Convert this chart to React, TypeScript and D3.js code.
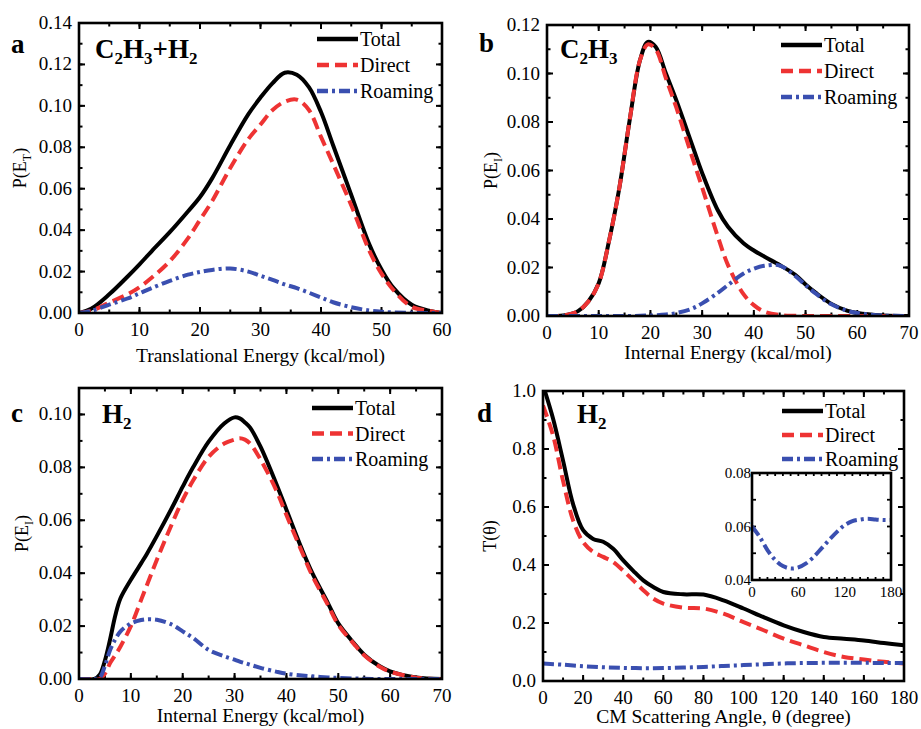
import React from "react";
import * as d3 from "d3";

// ---------- DATA ----------
// Panel a: translational energy distribution (C2H3 + H2)
const aX = [0, 2, 5, 8, 10, 12, 15, 18, 20, 22, 25, 28, 30, 32, 34, 36, 38, 40, 42, 45, 48, 50, 52, 55, 58, 60];
const aTotal = [0, 0.002, 0.009, 0.0175, 0.0235, 0.0298, 0.039, 0.049, 0.056, 0.065, 0.081, 0.096, 0.104, 0.111, 0.116, 0.115, 0.109, 0.097, 0.081, 0.057, 0.033, 0.021, 0.012, 0.004, 0.001, 0];
const aDirect = [0, 0.001, 0.005, 0.009, 0.0125, 0.017, 0.025, 0.036, 0.045, 0.054, 0.070, 0.084, 0.091, 0.098, 0.102, 0.103, 0.098, 0.085, 0.072, 0.052, 0.030, 0.019, 0.011, 0.003, 0.001, 0];
const aRoaming = [0, 0.001, 0.004, 0.007, 0.0095, 0.012, 0.0155, 0.0185, 0.0198, 0.0208, 0.0215, 0.020, 0.018, 0.016, 0.0138, 0.012, 0.0098, 0.0075, 0.0052, 0.0028, 0.0012, 0.0006, 0.0003, 0.0001, 0, 0];

// Panel b: C2H3 internal energy
const bX = [0, 2, 4, 6, 8, 10, 12, 14, 16, 18, 19.5, 21, 23, 25, 28, 30, 33, 35, 38, 40, 42, 45, 48, 50, 52, 55, 58, 60, 65, 70];
const bTotal = [0, 0, 0.0005, 0.002, 0.006, 0.0135, 0.031, 0.053, 0.081, 0.1056, 0.113, 0.111, 0.100, 0.089, 0.071, 0.059, 0.0437, 0.0368, 0.030, 0.027, 0.0245, 0.021, 0.017, 0.013, 0.0095, 0.005, 0.0022, 0.0012, 0.0002, 0];
const bDirect = [0, 0, 0.0005, 0.002, 0.006, 0.0135, 0.031, 0.053, 0.081, 0.1056, 0.112, 0.110, 0.098, 0.086, 0.066, 0.053, 0.033, 0.021, 0.009, 0.0045, 0.0018, 0.0004, 0.0001, 0, 0, 0, 0, 0, 0, 0];
const bRoaming = [0, 0, 0, 0, 0, 0, 0, 0, 0, 0.0001, 0.0002, 0.0003, 0.0006, 0.0012, 0.003, 0.0052, 0.0095, 0.0128, 0.0175, 0.0195, 0.0207, 0.0208, 0.0165, 0.0127, 0.0092, 0.0048, 0.0022, 0.0012, 0.0002, 0];

// Panel c: H2 internal energy
const cX = [0, 3, 4, 5, 6, 7, 8, 10, 12, 13, 15, 18, 20, 22, 25, 28, 30, 31, 32, 33, 35, 38, 40, 43, 45, 48, 50, 53, 55, 58, 60, 65, 70];
const cTotal = [0, 0, 0.0016, 0.007, 0.015, 0.024, 0.0305, 0.0375, 0.0438, 0.047, 0.054, 0.065, 0.0727, 0.080, 0.0897, 0.0966, 0.0989, 0.0985, 0.097, 0.095, 0.0878, 0.074, 0.064, 0.049, 0.040, 0.0287, 0.021, 0.0136, 0.0092, 0.0048, 0.0029, 0.0006, 0];
const cDirect = [0, 0, 0, 0.002, 0.006, 0.009, 0.0123, 0.020, 0.030, 0.035, 0.045, 0.059, 0.0677, 0.075, 0.084, 0.089, 0.0905, 0.091, 0.0905, 0.089, 0.083, 0.0715, 0.062, 0.048, 0.039, 0.028, 0.0205, 0.0133, 0.009, 0.0046, 0.0028, 0.0005, 0];
const cRoaming = [0, 0, 0.0005, 0.005, 0.011, 0.015, 0.018, 0.021, 0.0223, 0.0226, 0.0224, 0.0205, 0.018, 0.0155, 0.011, 0.0086, 0.0073, 0.0066, 0.006, 0.0054, 0.0042, 0.0028, 0.002, 0.0013, 0.001, 0.0006, 0.0004, 0.0002, 0.0001, 0, 0, 0, 0];

// Panel d: H2 angular distribution
const dX = [0, 5, 10, 15, 20, 25, 30, 35, 40, 45, 50, 55, 60, 70, 80, 90, 100, 110, 120, 130, 140, 150, 160, 170, 180];
const dTotal = [1.02, 0.905, 0.76, 0.61, 0.52, 0.49, 0.48, 0.456, 0.416, 0.38, 0.347, 0.324, 0.307, 0.299, 0.298, 0.278, 0.25, 0.22, 0.192, 0.169, 0.152, 0.146, 0.14, 0.131, 0.123];
const dDirect = [0.95, 0.847, 0.69, 0.554, 0.479, 0.445, 0.428, 0.41, 0.38, 0.347, 0.313, 0.284, 0.267, 0.253, 0.25, 0.232, 0.203, 0.175, 0.146, 0.123, 0.1, 0.083, 0.074, 0.066, 0.06];
const dRoamX = [0, 10, 20, 30, 40, 50, 60, 70, 80, 90, 100, 110, 120, 130, 140, 150, 160, 170, 180];
const dRoaming = [0.060, 0.0561, 0.0512, 0.0475, 0.0452, 0.0443, 0.0447, 0.0462, 0.0487, 0.0518, 0.055, 0.058, 0.0605, 0.062, 0.0626, 0.0629, 0.0626, 0.0624, 0.0624];

const legendLabels = ["Total", "Direct", "Roaming"];

// ---------- STYLE ----------
const FONT = "'Liberation Serif', 'Times New Roman', Times, serif";
const STYLES: Record<string, { color: string; dash: string | undefined }> = {
  Total: { color: "#000000", dash: undefined },
  Direct: { color: "#ee3333", dash: "12,6" },
  Roaming: { color: "#3a4fb0", dash: "11,4,3,4" },
};

type Series = { name: string; x: number[]; y: number[] };

type PanelProps = {
  id: string;
  left: number; right: number; top: number; bottom: number;
  xDomain: [number, number]; yDomain: [number, number];
  xMajor: number; xMinor: number; yMajor: number; yMinor: number;
  yDigits: number;
  series: Series[];
  letter: string; letterX: number; letterY: number;
  species: { t: string; sub?: boolean }[]; speciesX: number; speciesY: number;
  legendX: number; legendY: number; legendGap: number;
  xTitle: string; xTitleY: number;
  yTitle: React.ReactNode; yTitleX: number;
  children?: React.ReactNode;
};

function steps(lo: number, hi: number, step: number) {
  const n = Math.round((hi - lo) / step);
  return d3.range(n + 1).map((i) => +(lo + i * step).toFixed(6));
}

const CURVE = d3.curveCatmullRom.alpha(0.5);

function Panel(p: PanelProps) {
  const x = d3.scaleLinear().domain(p.xDomain).range([p.left, p.right]);
  const y = d3.scaleLinear().domain(p.yDomain).range([p.bottom, p.top]);
  const line = (s: Series) =>
    d3
      .line<number>()
      .x((_, i) => x(s.x[i]))
      .y((v) => y(Math.max(0, v)))
      .curve(CURVE)(s.y) || "";
  const xMaj = steps(p.xDomain[0], p.xDomain[1], p.xMajor);
  const xMin = steps(p.xDomain[0], p.xDomain[1], p.xMinor);
  const yMaj = steps(p.yDomain[0], p.yDomain[1], p.yMajor).filter((v) => v <= p.yDomain[1] + 1e-9);
  const yMin = steps(p.yDomain[0], p.yDomain[1], p.yMinor);
  const MAJ = 6, MIN = 3.5;
  const clipId = "clip-" + p.id;
  return (
    <g>
      <defs>
        <clipPath id={clipId}>
          <rect x={p.left} y={p.top} width={p.right - p.left} height={p.bottom - p.top - 1} />
        </clipPath>
      </defs>
      {/* ticks */}
      <g stroke="#000" strokeWidth={2}>
        {xMin.map((v) => (
          <g key={"xm" + v}>
            <line x1={x(v)} x2={x(v)} y1={p.bottom} y2={p.bottom - MIN} />
            <line x1={x(v)} x2={x(v)} y1={p.top} y2={p.top + MIN} />
          </g>
        ))}
        {xMaj.map((v) => (
          <g key={"xM" + v}>
            <line x1={x(v)} x2={x(v)} y1={p.bottom} y2={p.bottom - MAJ} />
            <line x1={x(v)} x2={x(v)} y1={p.top} y2={p.top + MAJ} />
          </g>
        ))}
        {yMin.map((v) => (
          <g key={"ym" + v}>
            <line x1={p.left} x2={p.left + MIN} y1={y(v)} y2={y(v)} />
            <line x1={p.right} x2={p.right - MIN} y1={y(v)} y2={y(v)} />
          </g>
        ))}
        {yMaj.map((v) => (
          <g key={"yM" + v}>
            <line x1={p.left} x2={p.left + MAJ} y1={y(v)} y2={y(v)} />
            <line x1={p.right} x2={p.right - MAJ} y1={y(v)} y2={y(v)} />
          </g>
        ))}
      </g>
      {/* curves */}
      <g clipPath={`url(#${clipId})`} fill="none" strokeWidth={4}>
        {p.series.map((s) => (
          <path key={s.name} d={line(s)} stroke={STYLES[s.name].color} strokeDasharray={STYLES[s.name].dash} />
        ))}
      </g>
      <rect x={p.left} y={p.top} width={p.right - p.left} height={p.bottom - p.top} fill="none" stroke="#000" strokeWidth={2.6} />
      {/* tick labels */}
      <g fontFamily={FONT} fontSize={19} fill="#000">
        {xMaj.map((v) => (
          <text key={"xl" + v} x={x(v)} y={p.bottom + 23} textAnchor="middle">{v}</text>
        ))}
        {yMaj.map((v) => (
          <text key={"yl" + v} x={p.left - 7} y={y(v) + 6} textAnchor="end">{v.toFixed(p.yDigits)}</text>
        ))}
      </g>
      {/* axis titles */}
      <text x={(p.left + p.right) / 2} y={p.xTitleY} textAnchor="middle" fontFamily={FONT} fontSize={19.5}>{p.xTitle}</text>
      <text transform={`translate(${p.yTitleX},${(p.top + p.bottom) / 2}) rotate(-90)`} textAnchor="middle" fontFamily={FONT} fontSize={18}>{p.yTitle}</text>
      {/* letter & species */}
      <text x={p.letterX} y={p.letterY} fontFamily={FONT} fontSize={27} fontWeight="bold">{p.letter}</text>
      <text x={p.speciesX} y={p.speciesY} fontFamily={FONT} fontSize={27} fontWeight="bold">
        {(() => {
          let shifted = false;
          return p.species.map((s, i) => {
            let dy = 0;
            if (s.sub && !shifted) { dy = 6; shifted = true; }
            else if (!s.sub && shifted) { dy = -6; shifted = false; }
            return (
              <tspan key={i} dy={dy} fontSize={s.sub ? 17 : 27}>{s.t}</tspan>
            );
          });
        })()}
      </text>
      {/* legend */}
      <g fontFamily={FONT} fontSize={20}>
        {legendLabels.map((name, i) => {
          const ly = p.legendY + i * p.legendGap;
          return (
            <g key={name}>
              <line x1={p.legendX} x2={p.legendX + 41} y1={ly} y2={ly} stroke={STYLES[name].color} strokeWidth={4.5} strokeDasharray={STYLES[name].dash} />
              <text x={p.legendX + 43} y={ly + 7}>{name}</text>
            </g>
          );
        })}
      </g>
      {p.children}
    </g>
  );
}

function Inset() {
  const left = 752, right = 891, top = 473, bottom = 580;
  const x = d3.scaleLinear().domain([0, 180]).range([left, right]);
  const y = d3.scaleLinear().domain([0.04, 0.08]).range([bottom, top]);
  const path = d3.line<number>().x((_, i) => x(dRoamX[i])).y((v) => y(v)).curve(CURVE)(dRoaming) || "";
  const xT = steps(0, 180, 10);
  const yT = steps(0.04, 0.08, 0.01);
  return (
    <g>
      <rect x={left} y={top} width={right - left} height={bottom - top} fill="#fff" />
      <g stroke="#000" strokeWidth={1.8}>
        {xT.map((v) => (
          <g key={"ix" + v}>
            <line x1={x(v)} x2={x(v)} y1={bottom} y2={bottom - 3} />
            <line x1={x(v)} x2={x(v)} y1={top} y2={top + 3} />
          </g>
        ))}
        {yT.map((v) => (
          <g key={"iy" + v}>
            <line x1={left} x2={left + 4} y1={y(v)} y2={y(v)} />
            <line x1={right} x2={right - 4} y1={y(v)} y2={y(v)} />
          </g>
        ))}
      </g>
      <path d={path} fill="none" stroke={STYLES.Roaming.color} strokeWidth={4} strokeDasharray={STYLES.Roaming.dash} />
      <rect x={left} y={top} width={right - left} height={bottom - top} fill="none" stroke="#000" strokeWidth={2.6} />
      <g fontFamily={FONT} fontSize={15}>
        {[0, 60, 120, 180].map((v) => (
          <text key={"ixl" + v} x={x(v)} y={bottom + 17} textAnchor="middle">{v}</text>
        ))}
        {[0.04, 0.06, 0.08].map((v) => (
          <text key={"iyl" + v} x={left - 1} y={y(v) + 5} textAnchor="end">{v.toFixed(2)}</text>
        ))}
      </g>
    </g>
  );
}

const PE = (sub: string) => (
  <>
    <tspan>P(E</tspan>
    <tspan dy={5} fontSize={12}>{sub}</tspan>
    <tspan dy={-5}>)</tspan>
  </>
);

export default function App() {
  return (
    <svg width={921} height={729} style={{ position: "absolute", left: 0, top: 0, background: "#fff" }}>
      <Panel
        id="a" left={79} right={442} top={23} bottom={313}
        xDomain={[0, 60]} yDomain={[0, 0.14]} xMajor={10} xMinor={5} yMajor={0.02} yMinor={0.01} yDigits={2}
        series={[
          { name: "Total", x: aX, y: aTotal },
          { name: "Direct", x: aX, y: aDirect },
          { name: "Roaming", x: aX, y: aRoaming },
        ]}
        letter="a" letterX={11} letterY={53}
        species={[{ t: "C" }, { t: "2", sub: true }, { t: "H" }, { t: "3", sub: true }, { t: "+H" }, { t: "2", sub: true }]}
        speciesX={95} speciesY={58}
        legendX={317} legendY={39} legendGap={26}
        xTitle="Translational Energy (kcal/mol)" xTitleY={362}
        yTitle={PE("T")} yTitleX={26}
      />
      <Panel
        id="b" left={547} right={909} top={25} bottom={316}
        xDomain={[0, 70]} yDomain={[0, 0.12]} xMajor={10} xMinor={5} yMajor={0.02} yMinor={0.01} yDigits={2}
        series={[
          { name: "Total", x: bX, y: bTotal },
          { name: "Direct", x: bX, y: bDirect },
          { name: "Roaming", x: bX, y: bRoaming },
        ]}
        letter="b" letterX={479} letterY={52}
        species={[{ t: "C" }, { t: "2", sub: true }, { t: "H" }, { t: "3", sub: true }]}
        speciesX={560} speciesY={58}
        legendX={781} legendY={45} legendGap={26}
        xTitle="Internal Energy (kcal/mol)" xTitleY={359}
        yTitle={PE("I")} yTitleX={497}
      />
      <Panel
        id="c" left={79} right={442} top={388} bottom={679}
        xDomain={[0, 70]} yDomain={[0, 0.11]} xMajor={10} xMinor={5} yMajor={0.02} yMinor={0.01} yDigits={2}
        series={[
          { name: "Total", x: cX, y: cTotal },
          { name: "Direct", x: cX, y: cDirect },
          { name: "Roaming", x: cX, y: cRoaming },
        ]}
        letter="c" letterX={11} letterY={422}
        species={[{ t: "H" }, { t: "2", sub: true }]}
        speciesX={102} speciesY={423}
        legendX={312} legendY={408} legendGap={25.5}
        xTitle="Internal Energy (kcal/mol)" xTitleY={722}
        yTitle={PE("I")} yTitleX={28}
      />
      <Panel
        id="d" left={543} right={904} top={391} bottom={681}
        xDomain={[0, 180]} yDomain={[0, 1.0]} xMajor={20} xMinor={10} yMajor={0.2} yMinor={0.1} yDigits={1}
        series={[
          { name: "Total", x: dX, y: dTotal },
          { name: "Direct", x: dX, y: dDirect },
          { name: "Roaming", x: dRoamX, y: dRoaming },
        ]}
        letter="d" letterX={477} letterY={422}
        species={[{ t: "H" }, { t: "2", sub: true }]}
        speciesX={577} speciesY={423}
        legendX={782} legendY={411} legendGap={24}
        xTitle="CM Scattering Angle,  θ (degree)" xTitleY={723}
        yTitle={<tspan>T(θ)</tspan>} yTitleX={496}
      >
        <Inset />
      </Panel>
    </svg>
  );
}
